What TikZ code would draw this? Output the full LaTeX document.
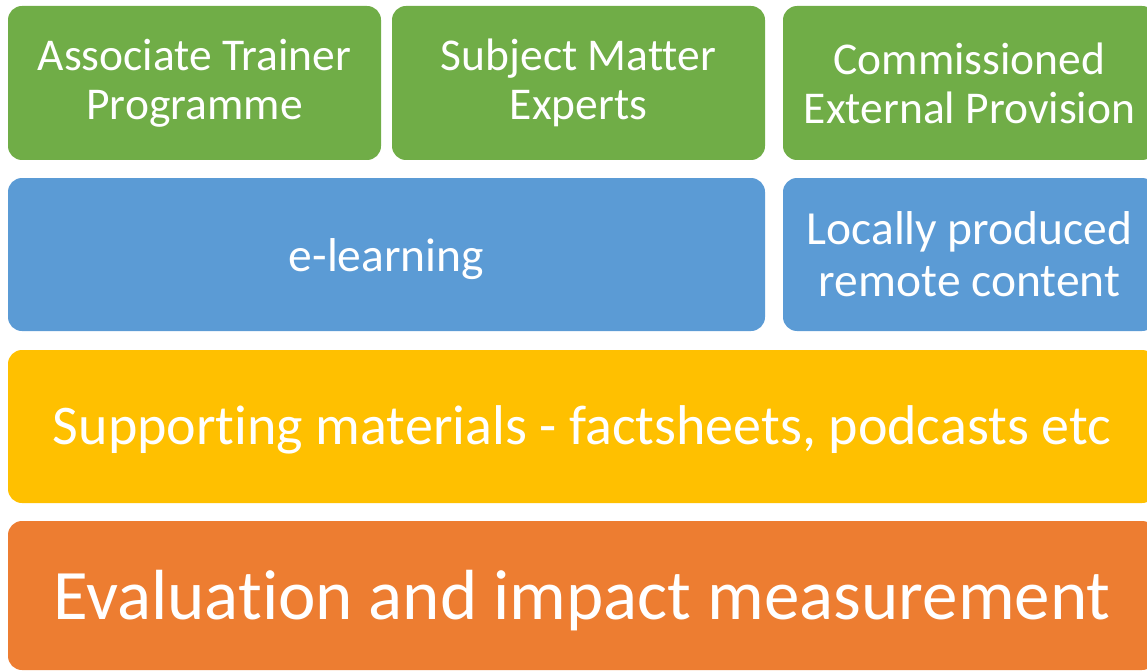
\documentclass[tikz,border=0pt]{standalone}
\usepackage{fontspec}
\setmainfont{Carlito}[Ligatures=NoCommon]
\usetikzlibrary{positioning}

\definecolor{offgreen}{HTML}{70AD47}
\definecolor{offblue}{HTML}{5B9BD5}
\definecolor{offyellow}{HTML}{FFC000}
\definecolor{offorange}{HTML}{ED7D31}

\newcommand{\lowertext}[2]{\raisebox{-#1}[\height][\depth]{#2}}

\begin{document}
\begin{tikzpicture}[x=1pt,y=-1pt,
    block/.style={rectangle,rounded corners=14pt,inner sep=0pt,outer sep=0pt,
        text=white,align=center,minimum height=153pt},
    toptext/.style={font=\fontsize{45.5}{49}\selectfont},
    smalltext/.style={font=\fontsize{47.5}{52}\selectfont},
    midtext/.style={font=\fontsize{56}{64}\selectfont},
    bigtext/.style={font=\fontsize{71}{84}\selectfont}]
    \useasboundingbox (0,0) rectangle (1147,671);

% top row
\node [block,toptext,fill=offgreen,minimum width=373pt,minimum height=154pt] (trainer) at (194.5,83) {Associate Trainer\\Programme};
\node [block,toptext,fill=offgreen,minimum width=373pt,minimum height=154pt] (experts) at (578.5,83) {Subject Matter\\Experts};
\node [block,toptext,fill=offgreen,minimum width=373pt,minimum height=154pt] (external) at (969.5,83) {Commissioned\\External Provision};

% second row
\node [block,smalltext,fill=offblue,minimum width=757pt] (elearn) at (386.5,254.5) {\lowertext{5pt}{e-learning}};
\node [block,smalltext,fill=offblue,minimum width=373pt] (local) at (969.5,254.5) {Locally produced\\remote content};

 % bottom rows
\node [block,midtext,fill=offyellow,minimum width=1148pt] (support) at (582,426.5) {\lowertext{3pt}{Supporting materials - factsheets, podcasts etc}};
\node [block,bigtext,fill=offorange,minimum width=1148pt,minimum height=149pt] (eval) at (582,595.5) {\lowertext{5pt}{Evaluation and impact measurement}};

%\draw[loosely dotted] (0,0) grid[step=50] (1147,671);
\end{tikzpicture}
\end{document}
